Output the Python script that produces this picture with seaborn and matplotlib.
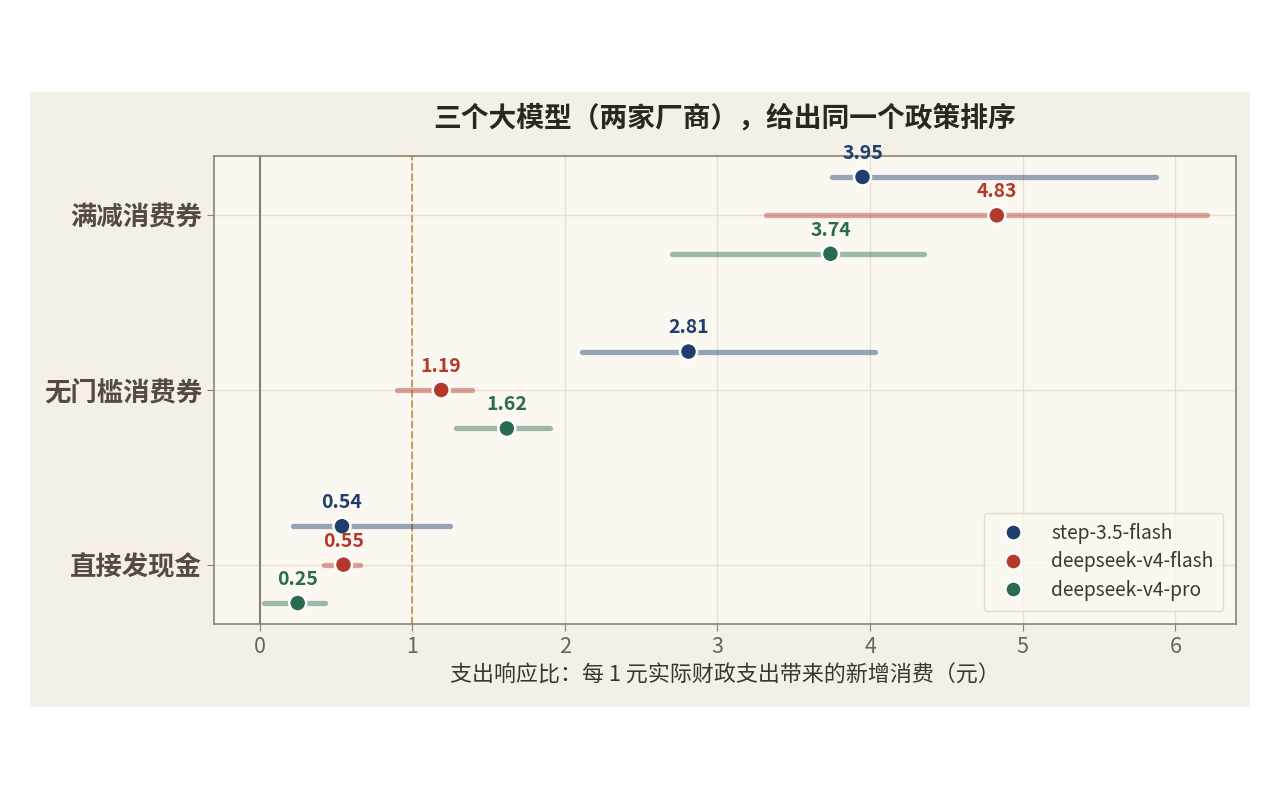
import matplotlib
matplotlib.use("Agg")
import matplotlib.pyplot as plt
from matplotlib.patches import Rectangle
import pandas as pd
import seaborn as sns

# policies (top to bottom) and models
POLICIES = ["满减消费券", "无门槛消费券", "直接发现金"]
MODELS = ["step-3.5-flash", "deepseek-v4-flash", "deepseek-v4-pro"]
MODEL_COLORS = ["#1f3d6d", "#b3392b", "#2a6b4e"]

# point estimates, per model, in POLICIES order
step_mid = [3.95, 2.81, 0.54]
dsflash_mid = [4.83, 1.19, 0.55]
dspro_mid = [3.74, 1.62, 0.25]

# interval ends
step_lo = [3.75, 2.11, 0.22]
step_hi = [5.87, 4.03, 1.25]
dsflash_lo = [3.32, 0.90, 0.42]
dsflash_hi = [6.21, 1.39, 0.66]
dspro_lo = [2.70, 1.29, 0.03]
dspro_hi = [4.35, 1.90, 0.43]

TITLE = "三个大模型（两家厂商），给出同一个政策排序"
XLABEL = "支出响应比：每 1 元实际财政支出带来的新增消费（元）"

FIG_BG = "#f4f0e7"
AX_BG = "#fbf8f2"
INK = "#554a41"
SPINE = "#8c8276"
GRID = "#e7dfd3"


def main():
    mids = [step_mid, dsflash_mid, dspro_mid]
    los = [step_lo, dsflash_lo, dspro_lo]
    his = [step_hi, dsflash_hi, dspro_hi]
    offsets = [-0.22, 0.0, 0.22]

    rows = []
    for m, model in enumerate(MODELS):
        for p, policy in enumerate(POLICIES):
            rows.append({"model": model, "policy": policy,
                         "value": mids[m][p], "lo": los[m][p], "hi": his[m][p],
                         "ypos": p + offsets[m]})
    df = pd.DataFrame(rows)

    sns.set_style("ticks")
    plt.rcParams["font.family"] = ["Noto Sans CJK SC", "DejaVu Sans"]

    fig = plt.figure(figsize=(12.8, 8), dpi=100, facecolor="white")
    fig.patches.append(Rectangle((0.0234, 0.116), 0.953, 0.769, transform=fig.transFigure,
                                 facecolor=FIG_BG, edgecolor="none", zorder=-5))
    ax = fig.add_axes([0.167, 0.22, 0.799, 0.585])
    ax.set_facecolor(AX_BG)

    palette = dict(zip(MODELS, MODEL_COLORS))

    # interval bars
    for _, r in df.iterrows():
        ax.plot([r["lo"], r["hi"]], [r["ypos"], r["ypos"]], color=palette[r["model"]],
                alpha=0.45, lw=3.8, solid_capstyle="round", zorder=2)

    sns.scatterplot(data=df, x="value", y="ypos", hue="model", hue_order=MODELS,
                    palette=palette, s=150, edgecolor="white", linewidth=1.8,
                    zorder=4, ax=ax)

    for _, r in df.iterrows():
        ax.annotate(f"{r['value']:.2f}", (r["value"], r["ypos"]), xytext=(0, 17),
                    textcoords="offset points", ha="center", va="center",
                    fontsize=14, fontweight="bold", color=palette[r["model"]], zorder=5)

    ax.axvline(0, color="#8a7c6e", lw=1.5, zorder=1)
    ax.axvline(1, color="#c4a052", lw=1.4, ls="--", zorder=1)

    ax.set_xlim(-0.3, 6.4)
    ax.set_ylim(2.34, -0.34)
    ax.set_yticks(range(len(POLICIES)))
    ax.set_yticklabels(POLICIES, fontsize=19, fontweight="bold")
    ax.set_xticks(range(0, 7))
    ax.tick_params(axis="x", labelsize=15.5, colors=SPINE, labelcolor="#6b6158", length=5)
    ax.tick_params(axis="y", colors=SPINE, labelcolor=INK, length=5)
    ax.grid(True, color=GRID, lw=1, zorder=0)
    ax.set_axisbelow(True)
    for s in ax.spines.values():
        s.set_color(SPINE)
        s.set_linewidth(1.2)

    ax.set_xlabel(XLABEL, fontsize=15.8, color="#3d3530", labelpad=5)
    ax.set_ylabel("")
    ax.set_title(TITLE, fontsize=20, fontweight="bold", color="#2b2622", pad=21)

    leg = ax.legend(loc="lower right", fontsize=13.8, frameon=True, title=None,
                    handletextpad=1.0, borderpad=0.5, labelspacing=0.4,
                    borderaxespad=0.7, markerscale=0.95)
    leg.get_frame().set_facecolor(AX_BG)
    leg.get_frame().set_edgecolor("#ddd4c6")
    for t in leg.get_texts():
        t.set_color("#3d3530")

    fig.savefig("out.png", dpi=100)


if __name__ == "__main__":
    main()
